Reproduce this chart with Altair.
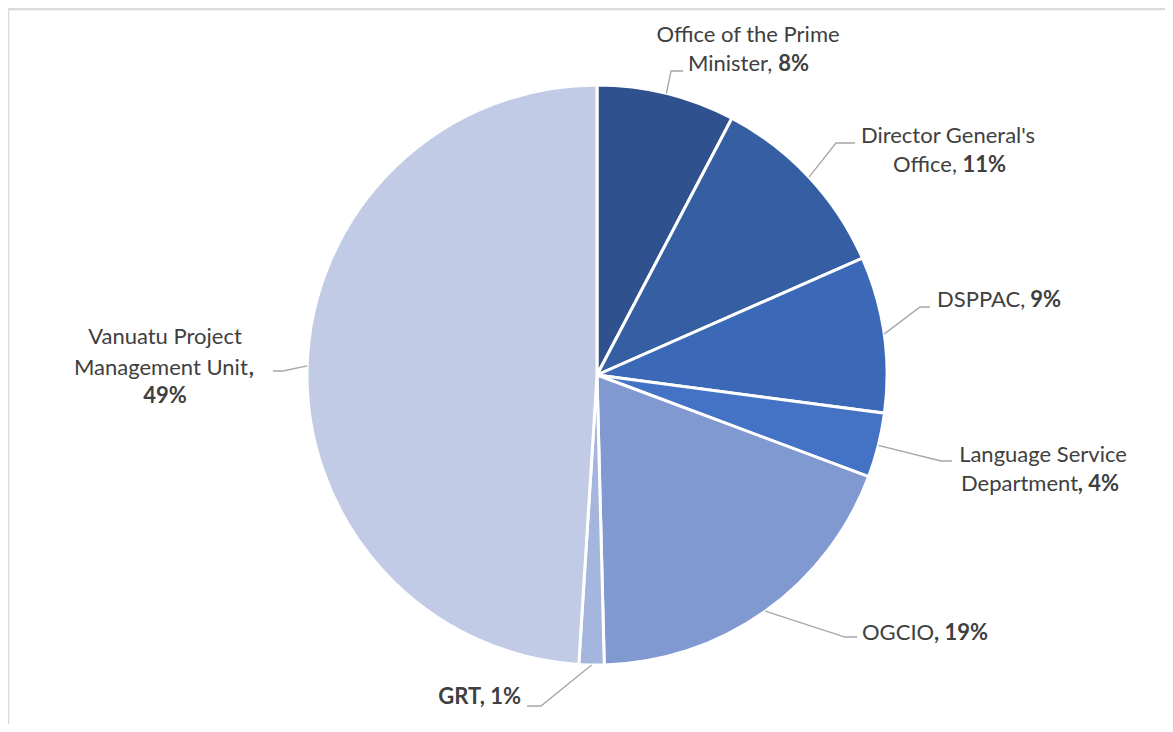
import math
import altair as alt
import pandas as pd

# ---- data ----
categories = ["Office of the Prime Minister", "Director General's Office", "DSPPAC",
              "Language Service Department", "OGCIO", "GRT", "Vanuatu Project Management Unit"]
shares = [7.7, 10.7, 8.7, 3.6, 18.9, 1.4, 49.0]
pct_labels = ["8%", "11%", "9%", "4%", "19%", "1%", "49%"]
colors = ["#2F528F", "#355EA3", "#3C69B7", "#4472C4", "#8099D0", "#A4B5DE", "#C2CBE6"]

# ---- layout (pixel positions inside the chart, origin at chart top-left) ----
W, H = 1157, 716
CX, CY, R = 589, 367, 290
OFF = 8  # page margin

pie_df = pd.DataFrame({"cat": categories, "share": shares, "order": list(range(len(categories)))})

pie = alt.Chart(pie_df).mark_arc(radius=R, stroke="white", strokeWidth=3).encode(
    theta=alt.Theta("share:Q", stack=True),
    order=alt.Order("order:Q"),
    color=alt.Color("cat:N", scale=alt.Scale(domain=categories, range=colors), legend=None),
    x=alt.value(CX), y=alt.value(CY),
)

# leader lines: start at slice mid-angle on the rim; elbow and end are label layout
elbows = [(671, 71), (836, 143), (920, 307), (941, 461), (845, 637), (541, 706), (283, 371)]
ends = [(683, 71), (855, 143), (930, 307), (952, 461), (857, 637), (527, 706), (273, 371)]
total = sum(shares)
rows = []
cum = 0.0
for i, s in enumerate(shares):
    mid = (cum + s / 2) / total * 2 * math.pi
    cum += s
    sx = CX + R * math.sin(mid)
    sy = CY - R * math.cos(mid)
    pts = [(sx, sy), (elbows[i][0] - OFF, elbows[i][1] - OFF), (ends[i][0] - OFF, ends[i][1] - OFF)]
    for k, (px, py) in enumerate(pts):
        rows.append({"cat": categories[i], "k": k, "px": px, "py": py})
lead_df = pd.DataFrame(rows)
leaders = alt.Chart(lead_df).mark_line(color="#A6A6A6", strokeWidth=1.3).encode(
    x=alt.X("px:Q", scale=None), y=alt.Y("py:Q", scale=None),
    detail="cat:N", order="k:Q",
)

pct = pct_labels
# label text lines: (text, x, y, align, bold)
lines = [
    ("Office of the Prime", 748, 35, "center", False),
    ("Minister,", 688, 64, "left", False), (pct[0], 809, 64, "right", True),
    ("Director General's", 948, 136, "center", False),
    ("Office,", 893, 165, "left", False), (pct[1], 1006, 165, "right", True),
    ("DSPPAC,", 937, 300, "left", False), (pct[2], 1061, 300, "right", True),
    ("Language Service", 1043, 455, "center", False),
    ("Department", 961, 484, "left", False), (", " + pct[3], 1119, 484, "right", True),
    ("OGCIO", 862, 633, "left", False), (", " + pct[4], 988, 633, "right", True),
    ("GRT, " + pct[5], 521, 697, "right", True),
    ("Vanuatu Project", 165, 337, "center", False),
    ("Management Unit", 74, 368, "left", False), (",", 254, 368, "right", True),
    (pct[6], 165, 396, "center", True),
]
lab_df = pd.DataFrame([{"t": t, "px": x - OFF, "py": y - OFF, "al": a, "b": b} for t, x, y, a, b in lines])

text_layers = []
for al in ["left", "right", "center"]:
    for b in [False, True]:
        sub = lab_df[(lab_df.al == al) & (lab_df.b == b)]
        if len(sub) == 0:
            continue
        text_layers.append(
            alt.Chart(sub).mark_text(
                align=al, baseline="middle", font="Lato", fontSize=22,
                fontWeight="bold" if b else "normal", color="#404040",
            ).encode(x=alt.X("px:Q", scale=None), y=alt.Y("py:Q", scale=None), text="t:N")
        )

# frame (top and left edges visible in the reference)
frame_top = alt.Chart(pd.DataFrame({"a": [0]})).mark_rule(color="#D9D9D9", strokeWidth=1.5).encode(
    x=alt.value(0.5), x2=alt.value(W), y=alt.value(1.5))
frame_left = alt.Chart(pd.DataFrame({"a": [0]})).mark_rule(color="#D9D9D9", strokeWidth=1.5).encode(
    x=alt.value(0.5), y=alt.value(1.5), y2=alt.value(H))

chart = alt.layer(frame_top, frame_left, pie, leaders, *text_layers).properties(
    width=W, height=H, autosize=alt.AutoSizeParams(type="none"), padding=0,
).configure_view(stroke=None).configure(background="white")

chart.save("out.html", embed_options={"renderer": "svg", "actions": False})
